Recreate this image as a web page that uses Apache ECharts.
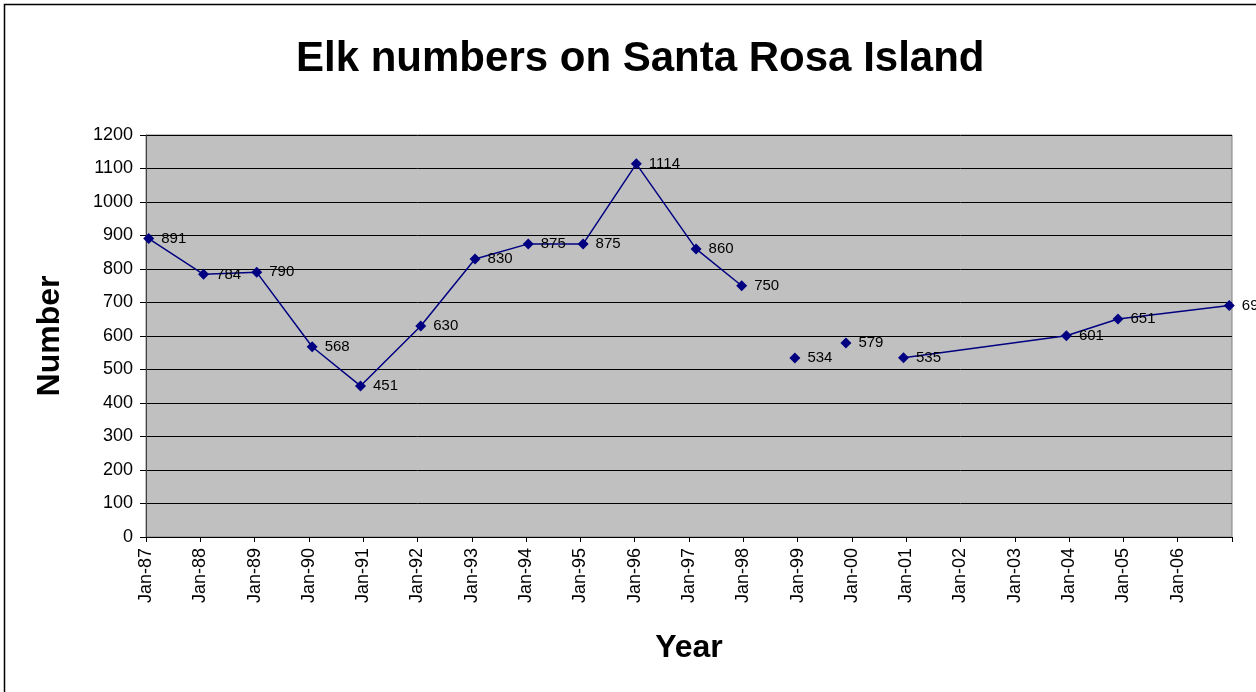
<!DOCTYPE html>
<html>
<head>
<meta charset="utf-8">
<script src="https://cdn.jsdelivr.net/npm/echarts@6/dist/echarts.min.js"></script>
<style>
html,body{margin:0;padding:0;background:#fff;}
#chart{width:1256px;height:692px;}
</style>
</head>
<body>
<div id="chart"></div>
<script>
const surveyDates = [1987.05, 1988.06, 1989.04, 1990.06, 1990.95, 1992.06, 1993.06, 1994.04, 1995.05,
  1996.03, 1997.13, 1997.97, 1998.95, 1999.89, 2000.95, 2003.95, 2004.9, 2006.95];
const elkCounts = [891, 784, 790, 568, 451, 630, 830, 875, 875, 1114, 860, 750, 534, 579, 535, 601, 651, 691];
// line is broken after these indices (isolated points in the reference)
const lineBreaksAfter = [11, 12, 13];
const yTicks = [0, 100, 200, 300, 400, 500, 600, 700, 800, 900, 1000, 1100, 1200];
const xTickYears = [1987, 1988, 1989, 1990, 1991, 1992, 1993, 1994, 1995, 1996, 1997, 1998, 1999,
  2000, 2001, 2002, 2003, 2004, 2005, 2006];

const seriesData = [];
surveyDates.forEach((d, i) => {
  seriesData.push([d, elkCounts[i]]);
  if (lineBreaksAfter.includes(i)) seriesData.push([(d + surveyDates[i + 1]) / 2, '-']);
});

const FONT = '"Liberation Sans", Arial, sans-serif';
const chart = echarts.init(document.getElementById('chart'), null, {renderer: 'canvas'});
chart.setOption({
  backgroundColor: '#ffffff',
  animation: false,
  title: {
    text: 'Elk numbers on Santa Rosa Island',
    left: 291,
    top: 33,
    textStyle: {fontFamily: FONT, fontSize: 42, fontWeight: 'bold', color: '#000'}
  },
  graphic: [{
    type: 'rect',
    shape: {x: 4.5, y: 4.5, width: 1300, height: 800},
    style: {fill: 'none', stroke: '#000', lineWidth: 1.5},
    silent: true
  }],
  grid: {
    left: 146, right: 24, top: 135, bottom: 155,
    show: true, backgroundColor: '#C0C0C0', borderColor: '#808080', borderWidth: 1
  },
  xAxis: {
    type: 'value',
    min: xTickYears[0],
    max: 2007,
    interval: 1,
    name: 'Year',
    nameLocation: 'middle',
    nameGap: 95,
    nameTextStyle: {fontFamily: FONT, fontSize: 32, fontWeight: 'bold', color: '#000'},
    axisLine: {show: true, lineStyle: {color: '#000', width: 1}},
    axisTick: {show: true, length: 5, lineStyle: {color: '#000'}},
    splitLine: {show: false},
    axisLabel: {
      rotate: 90,
      margin: 11,
      fontFamily: FONT, fontSize: 18, color: '#000',
      formatter: v => xTickYears.includes(v) ? 'Jan-' + String(v % 100).padStart(2, '0') : ''
    }
  },
  yAxis: {
    type: 'value',
    min: yTicks[0],
    max: yTicks[yTicks.length - 1],
    interval: 100,
    name: 'Number',
    nameLocation: 'middle',
    nameGap: 80,
    nameRotate: 90,
    nameTextStyle: {fontFamily: FONT, fontSize: 32, fontWeight: 'bold', color: '#000'},
    axisLine: {show: true, lineStyle: {color: '#404040', width: 1}},
    axisTick: {show: true, length: 6, lineStyle: {color: '#000'}},
    splitLine: {show: true, lineStyle: {color: '#000', width: 1}},
    axisLabel: {margin: 13, fontFamily: FONT, fontSize: 18, color: '#000', formatter: v => String(v)}
  },
  series: [{
    type: 'line',
    data: seriesData,
    connectNulls: false,
    symbol: 'diamond',
    symbolSize: 11,
    itemStyle: {color: '#000080'},
    lineStyle: {color: '#000080', width: 1.5},
    label: {
      show: true, position: 'right', distance: 7,
      fontFamily: FONT, fontSize: 15, color: '#000',
      formatter: p => p.value[1]
    }
  }]
});
</script>
</body>
</html>
